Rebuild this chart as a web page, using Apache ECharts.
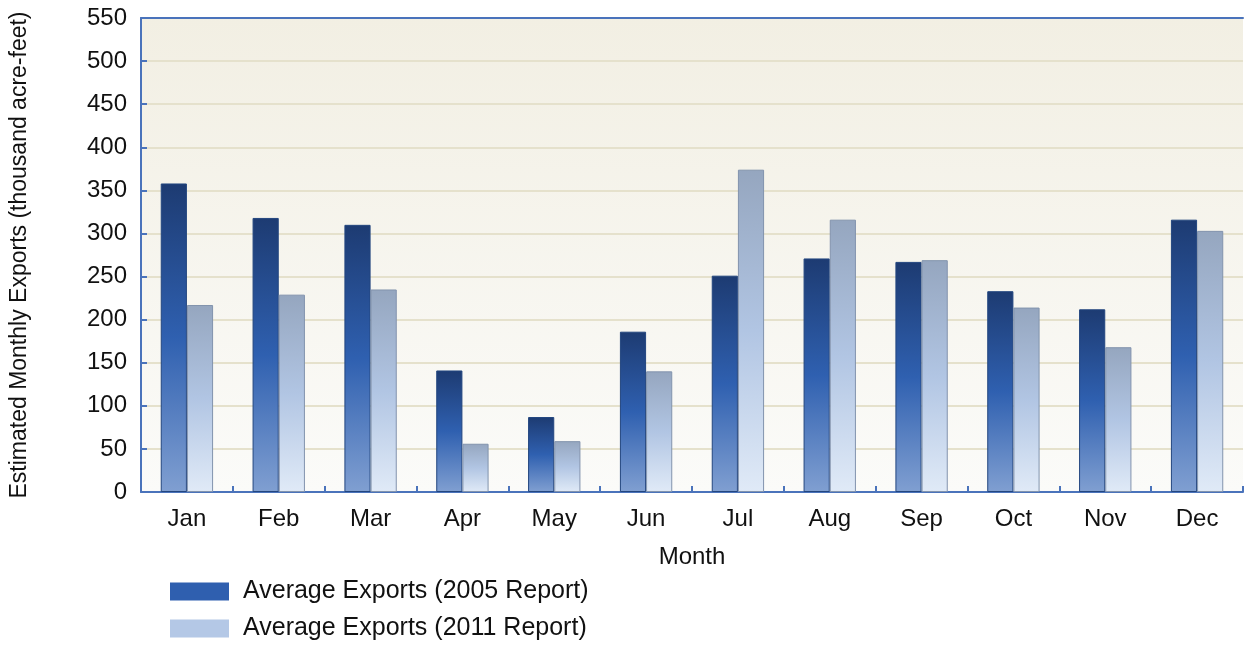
<!DOCTYPE html>
<html><head><meta charset="utf-8">
<script src="https://cdn.jsdelivr.net/npm/echarts@6/dist/echarts.min.js"></script>
<style>html,body{margin:0;padding:0;background:#fff}#c{width:1246px;height:645px}</style>
</head><body><div id="c"></div>
<script>
const months = ['Jan','Feb','Mar','Apr','May','Jun','Jul','Aug','Sep','Oct','Nov','Dec'];
const exports2005 = [358, 318, 310, 141, 87, 186, 251, 271, 267, 233, 212, 316];
const exports2011 = [217, 229, 235, 56, 59, 140, 374, 316, 269, 214, 168, 303];
const seriesNames = ['Average Exports (2005 Report)', 'Average Exports (2011 Report)'];
const yTicks = {min: 0, max: 550, interval: 50};

const font = 'Liberation Sans, Arial, sans-serif';
const axisBlue = '#4a73bb';
const grad = (stops) => new echarts.graphic.LinearGradient(0, 0, 0, 1, stops.map((c) => ({offset: c[0], color: c[1]})));

const legendCommon = {
  orient: 'vertical', left: 170, padding: 0,
  itemWidth: 59, itemHeight: 18, icon: 'rect',
  textStyle: {fontSize: 25, color: '#111', fontFamily: font, padding: [0, 0, 0, 9]}
};

const chart = echarts.init(document.getElementById('c'), null, {renderer: 'canvas'});
chart.setOption({
  animation: false,
  textStyle: {fontFamily: font},
  grid: {
    left: 141, right: 3, top: 18, bottom: 153,
    show: true, borderWidth: 0,
    backgroundColor: grad([[0, '#f2efe3'], [1, '#fbfbf9']])
  },
  legend: [
    Object.assign({}, legendCommon, {top: 579, data: [{name: seriesNames[0], itemStyle: {color: '#2f5faf', borderWidth: 0}}]}),
    Object.assign({}, legendCommon, {top: 616, data: [{name: seriesNames[1], itemStyle: {color: '#b4c8e6', borderWidth: 0}}]})
  ],
  xAxis: [{
    type: 'category', data: months,
    name: 'Month', nameLocation: 'middle', nameGap: 53,
    nameTextStyle: {fontSize: 24, color: '#111', fontFamily: font},
    axisLine: {lineStyle: {color: axisBlue, width: 2}},
    axisTick: {show: true, inside: true, length: 6, lineStyle: {color: axisBlue, width: 2}},
    axisLabel: {fontSize: 24, color: '#111', margin: 15, fontFamily: font}
  }, {
    type: 'category', data: months, position: 'top',
    axisLine: {show: true, lineStyle: {color: axisBlue, width: 2}},
    axisTick: {show: false}, axisLabel: {show: false}, splitLine: {show: false}
  }],
  yAxis: {
    type: 'value', min: yTicks.min, max: yTicks.max, interval: yTicks.interval,
    name: 'Estimated Monthly Exports (thousand acre-feet)', nameLocation: 'middle', nameGap: 110,
    nameRotate: 90,
    nameTextStyle: {fontSize: 23, color: '#111', fontFamily: font},
    axisLine: {show: true, lineStyle: {color: axisBlue, width: 2}},
    axisTick: {show: true, inside: true, length: 6, lineStyle: {color: axisBlue, width: 2}},
    axisLabel: {fontSize: 24, color: '#111', margin: 14, fontFamily: font},
    splitLine: {show: true, lineStyle: {color: '#e5e1cc', width: 2}}
  },
  series: [
    {
      name: seriesNames[0], type: 'bar', data: exports2005,
      barGap: '0%', barCategoryGap: '43%',
      itemStyle: {
        color: grad([[0, '#1d3b72'], [0.5, '#2f60b0'], [1, '#809fd1']]),
        borderColor: '#23467f', borderWidth: 1
      }
    },
    {
      name: seriesNames[1], type: 'bar', data: exports2011,
      itemStyle: {
        color: grad([[0, '#95a6bf'], [0.5, '#b1c5e3'], [1, '#e0eaf7']]),
        borderColor: '#8293ad', borderWidth: 1
      }
    }
  ]
});
</script></body></html>
